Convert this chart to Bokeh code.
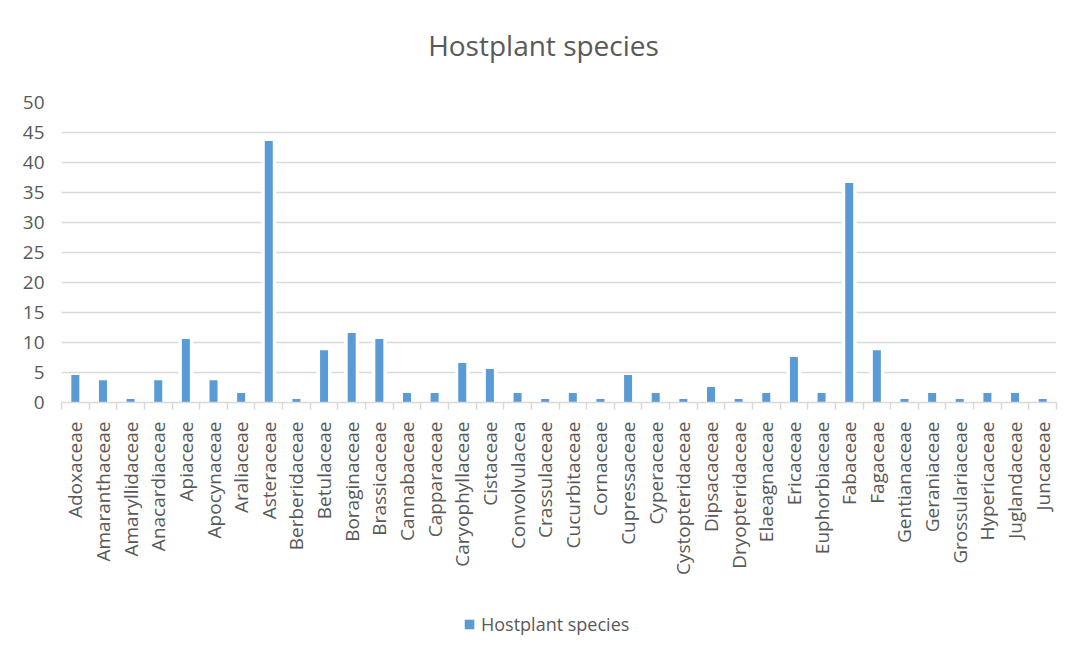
import math
from bokeh.plotting import figure
from bokeh.layouts import column
from bokeh.models import (Range1d, FixedTicker, LinearAxis, Legend, LegendItem,
                          ColumnDataSource, Label)
from bokeh.embed import file_html
from bokeh.resources import INLINE

# ---- data ----
families = ["Adoxaceae", "Amaranthaceae", "Amaryllidaceae", "Anacardiaceae", "Apiaceae",
            "Apocynaceae", "Araliaceae", "Asteraceae", "Berberidaceae", "Betulaceae",
            "Boraginaceae", "Brassicaceae", "Cannabaceae", "Capparaceae", "Caryophyllaceae",
            "Cistaceae", "Convolvulacea", "Crassulaceae", "Cucurbitaceae", "Cornaceae",
            "Cupressaceae", "Cyperaceae", "Cystopteridaceae", "Dipsacaceae", "Dryopteridaceae",
            "Elaeagnaceae", "Ericaceae", "Euphorbiaceae", "Fabaceae", "Fagaceae",
            "Gentianaceae", "Geraniaceae", "Grossulariaceae", "Hypericaceae", "Juglandaceae",
            "Juncaceae"]
values = [4.6, 3.7, 0.6, 3.7, 10.6, 3.7, 1.6, 43.6, 0.6, 8.7,
          11.6, 10.6, 1.6, 1.6, 6.6, 5.6, 1.6, 0.6, 1.6, 0.6,
          4.6, 1.6, 0.6, 2.6, 0.6, 1.6, 7.6, 1.6, 36.6, 8.7,
          0.6, 1.6, 0.6, 1.6, 1.6, 0.6]
y_ticks = [0, 5, 10, 15, 20, 25, 30, 35, 40, 45, 50]
title_text = "Hostplant species"
series_name = "Hostplant species"

FONT = "Open Sans"
TXT = "#595959"
GRID = "#D9D9D9"
BAR = "#5B9BD5"
W = 1075

n = len(families)
centers = [i + 0.5 for i in range(n)]
edges = list(range(n + 1))
src = ColumnDataSource(dict(x=centers, top=values, family=families))


def bare(fig):
    fig.axis.visible = False
    fig.grid.visible = False
    fig.outline_line_color = None
    return fig


# ---- title strip (frame is aligned with the main chart's frame: 61..1056 px) ----
pt = bare(figure(width=W, height=90, x_range=Range1d(61, 1056), y_range=Range1d(0, 90),
                 output_backend="svg", toolbar_location=None,
                 min_border=0, min_border_left=0, min_border_right=0,
                 min_border_top=0, min_border_bottom=0))
pt.add_layout(Label(x=543, y=46, text=title_text, text_align="center",
                    text_baseline="alphabetic", text_font=FONT,
                    text_font_size="28px", text_color=TXT))

# ---- main chart ----
p = figure(x_range=Range1d(0, n), y_range=Range1d(0, 50), width=W, height=516,
           output_backend="svg", toolbar_location=None, x_axis_location=None,
           min_border_left=61, min_border_right=19, min_border_top=12,
           min_border_bottom=204)
p.outline_line_color = None
p.xgrid.visible = False
p.ygrid.grid_line_color = GRID
p.ygrid.grid_line_width = 1.5
p.ygrid.ticker = FixedTicker(ticks=y_ticks)

yax = p.yaxis[0]
yax.ticker = FixedTicker(ticks=y_ticks)
yax.axis_line_color = None
yax.major_tick_line_color = None
yax.minor_tick_line_color = None
yax.major_label_text_font = FONT
yax.major_label_text_font_size = "19px"
yax.major_label_text_color = TXT
yax.major_label_standoff = 11

# x axis: labels at category centres, tick marks at category boundaries
xax = LinearAxis(ticker=FixedTicker(ticks=centers, minor_ticks=edges),
                 major_label_overrides={c: f for c, f in zip(centers, families)})
xax.axis_line_color = GRID
xax.axis_line_width = 1.5
xax.major_tick_line_color = None
xax.major_tick_out = 0
xax.major_tick_in = 0
xax.minor_tick_line_color = GRID
xax.minor_tick_line_width = 1.5
xax.minor_tick_out = 7
xax.minor_tick_in = 0
xax.major_label_orientation = math.pi / 2
xax.major_label_text_font = FONT
xax.major_label_text_font_size = "19px"
xax.major_label_text_color = TXT
xax.major_label_standoff = 12
p.add_layout(xax, "below")

# bars (white halo behind, as in the original)
p.vbar(x="x", top="top", width=0.54, source=src, fill_color="white", line_color=None)
p.vbar(x="x", top="top", width=0.29, source=src, fill_color=BAR, line_color=None)

# ---- legend strip (same series, its bars lie outside this strip's view) ----
pl = bare(figure(width=W, height=50, x_range=Range1d(0, n), y_range=Range1d(100, 101),
                 output_backend="svg", toolbar_location=None,
                 min_border=0, min_border_left=0, min_border_right=0,
                 min_border_top=0, min_border_bottom=0))
swatch = pl.vbar(x="x", top="top", width=0.29, source=src, fill_color=BAR, line_color=None)
legend = Legend(items=[LegendItem(label=series_name, renderers=[swatch])],
                location=(402, 20), orientation="horizontal",
                glyph_width=12, glyph_height=12, label_standoff=6,
                padding=0, margin=0, spacing=0,
                border_line_color=None, background_fill_alpha=0,
                label_text_font=FONT, label_text_font_size="18px", label_text_color=TXT)
pl.add_layout(legend, "center")

layout = column(pt, p, pl, spacing=0)
open("out.html", "w").write(file_html(layout, INLINE))
